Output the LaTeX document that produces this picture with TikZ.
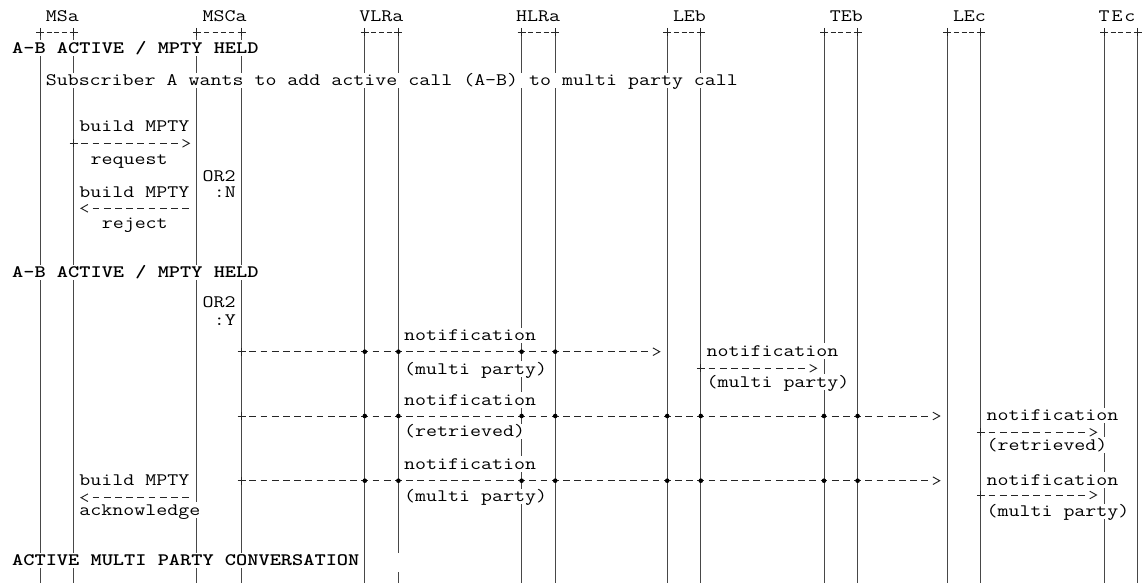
\documentclass[tikz,border=0pt]{standalone}
\usepackage{graphicx}
\usetikzlibrary{calc}
\newcommand\mono{\fontsize{17.5}{18}\selectfont\ttfamily}
\newcommand\wide[1]{\scalebox{1.219}[1]{#1}}
\newcommand\colx[1]{34.4+11.2*(#1)}
\newcommand\barx[1]{40+11.2*(#1)}
\tikzset{
  x=1pt, y=-1pt,
  lbl/.style={inner sep=0pt, anchor=base west, font=\mono, text=black},
  txt/.style={lbl, fill=white, text height=13pt, text depth=2.5pt},
  btxt/.style={txt, font=\mono\bfseries},
  life/.style={draw=black!72, line width=0.9pt},
  msg/.style={draw=black!85, line width=0.95pt, dash pattern=on 6.8pt off 4.4pt},
  head/.style={draw=black!85, line width=0.95pt},
  dot/.style={circle, fill=black, inner sep=0pt, minimum size=4.6pt},
}
\newcommand\Tx[5][txt]{\node[#1] (#2) at ({\colx{#3}},#4) {\wide{#5}};}
\newcommand\plusmark[1]{\draw[head] ($(#1)+(-4,0)$) -- ($(#1)+(4,0)$) ($(#1)+(0,-4)$) -- ($(#1)+(0,4)$);}
\newcommand\rmsg[4]{%
  \coordinate (#1s) at ({\barx{#3}},#2);
  \coordinate (#1a) at ({\colx{#3+1}+2.2},#2);
  \coordinate (#1b) at ({\colx{#4}-2.2},#2);
  \coordinate (#1e) at ({\colx{#4}+9.3},#2);
  \draw[msg] (#1a) -- (#1b);
  \draw[head] ($(#1e)+(-6.8,-3.8)$) -- (#1e) -- ($(#1e)+(-6.8,3.8)$);
  \plusmark{#1s}}
\newcommand\lmsg[4]{%
  \coordinate (#1e) at ({\colx{#3}+1.9},#2);
  \coordinate (#1a) at ({\colx{#3+1}+2.2},#2);
  \coordinate (#1b) at ({\colx{#4}+9.0},#2);
  \draw[msg] (#1a) -- (#1b);
  \draw[head] ($(#1e)+(6.8,-3.8)$) -- (#1e) -- ($(#1e)+(6.8,3.8)$);}
\newcommand\hdr[3]{%
  \coordinate (hl#1) at ({\barx{#1}},32);
  \coordinate (hr#2) at ({\barx{#2}},32);
  \pgfmathsetmacro\hgap{(11.2*(#2-#1)-8-5*#3)/(#3+1)}
  \draw[head, dash pattern=on 5pt off \hgap pt] ($(hl#1)+({4+\hgap},0)$) -- ($(hr#2)+({-4-\hgap},0)$);
  \plusmark{hl#1}\plusmark{hr#2}}
\begin{document}
\begin{tikzpicture}
\fill[white] (0,0) rectangle (1144,583);
\useasboundingbox (0,0) rectangle (1144,583);
% lifelines
\foreach \c in {0,3,14,18,29,43,46,56,59,70,73,81,84,95,98}{
  \coordinate (top\c) at ({\barx{\c}},32);
  \coordinate (bot\c) at ({\barx{\c}},583);
  \draw[life] (top\c) -- (bot\c);
}
\coordinate (top32) at ({\barx{32}},32);
\coordinate (gapa32) at ({\barx{32}},553);
\coordinate (gapb32) at ({\barx{32}},572);
\coordinate (bot32) at ({\barx{32}},583);
\draw[life] (top32) -- (gapa32) (gapb32) -- (bot32);
% header labels
\Tx[lbl]{hMSa}{1}{21.7}{MSa}
\Tx[lbl]{hMSCa}{15}{21.7}{MSCa}
\Tx[lbl]{hVLRa}{29}{21.7}{VLRa}
\Tx[lbl]{hHLRa}{43}{21.7}{HLRa}
\Tx[lbl]{hLEb}{57}{21.7}{LEb}
\Tx[lbl]{hTEb}{71}{21.7}{TEb}
\Tx[lbl]{hLEc}{82}{21.7}{LEc}
\Tx[lbl]{hTEc}{95}{21.7}{T\hspace{1.6pt}E\hspace{1.6pt}c}
\hdr{0}{3}{3}
\hdr{14}{18}{4}
\hdr{29}{32}{3}
\hdr{43}{46}{3}
\hdr{56}{59}{3}
\hdr{70}{73}{3}
\hdr{81}{84}{3}
\hdr{95}{98}{3}
% texts
\Tx[btxt]{st1}{-2}{53.3}{A-B ACTIVE / MPTY HELD}
\Tx{sub}{1}{86}{Subscriber A wants to add active call (A-B) to multi party call}
\Tx{bm1}{4}{131.7}{build MPTY}
\Tx{req}{5}{165}{request}
\Tx{or1}{15}{181.7}{OR2}
\Tx{bm2}{4}{197.7}{build MPTY}
\Tx{yn1}{16}{197.7}{:N}
\Tx{rej}{6}{229}{reject}
\Tx[btxt]{st2}{-2}{277.7}{A-B ACTIVE / MPTY HELD}
\Tx{or2}{15}{307.8}{OR2}
\Tx{yn2}{16}{325}{:Y}
\Tx{no1}{33}{340.7}{notification}
\Tx{mp1}{33}{374}{(multi party)}
\Tx{no2}{60}{356}{notification}
\Tx{mp2}{60}{387.3}{(multi party)}
\Tx{no3}{33}{405}{notification}
\Tx{re1}{33}{436.7}{(retrieved)}
\Tx{no4}{85}{420.7}{notification}
\Tx{re2}{85}{450}{(retrieved)}
\Tx{no5}{33}{469.3}{notification}
\Tx{bm3}{4}{485}{build MPTY}
\Tx{no6}{85}{485}{notification}
\Tx{mp3}{33}{501.7}{(multi party)}
\Tx{ack}{4}{515}{acknowledge}
\Tx{mp4}{85}{516.7}{(multi party)}
\Tx[btxt]{st3}{-2}{565.7}{ACTIVE MULTI PARTY CONVERSATION}
% messages
\rmsg{ma}{143.3}{3}{13}
\lmsg{mb}{208.3}{4}{13}
\rmsg{ln}{351.7}{18}{55}
\rmsg{lb}{368.3}{59}{69}
\rmsg{lr}{416}{18}{80}
\rmsg{lc}{432.3}{84}{94}
\rmsg{lm}{480.7}{18}{80}
\rmsg{ld}{495}{84}{94}
\lmsg{mc}{497.7}{4}{13}
% crossing dots
\foreach \c in {29,32,43,46}{\node[dot] (dn\c) at ({\barx{\c}},351.7) {};}
\foreach \c in {29,32,43,46,56,59,70,73}{
  \node[dot] (dr\c) at ({\barx{\c}},416) {};
  \node[dot] (dm\c) at ({\barx{\c}},480.7) {};
}
\end{tikzpicture}
\end{document}
